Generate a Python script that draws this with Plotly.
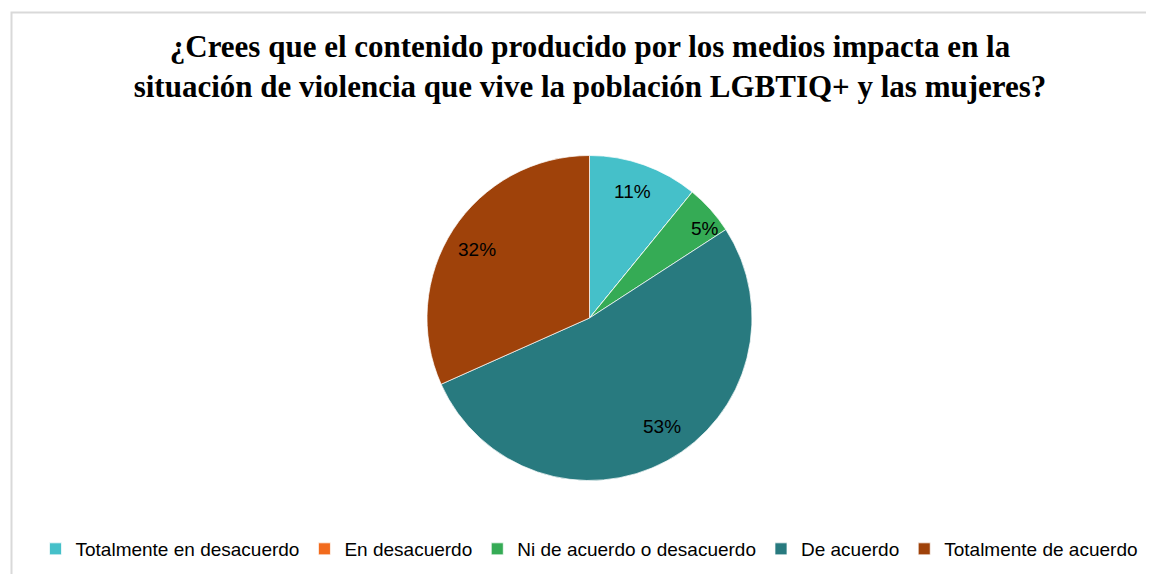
import math
import plotly.graph_objects as go

categories = ["Totalmente en desacuerdo", "En desacuerdo", "Ni de acuerdo o desacuerdo",
              "De acuerdo", "Totalmente de acuerdo"]
values = [11, 0, 5, 53, 32]
colors = ["#45c0c9", "#f26b1d", "#35ab55", "#287a7f", "#9f420a"]
label_radius = [0.82, 0.8, 0.9, 0.805, 0.81]     # style: radial position of each label (fraction of R)
label_angle = [0.475, 0.5, 0.72, 0.473, 0.488]   # style: angular position within the slice
title_text = ("<b>¿Crees que el contenido producido por los medios impacta en la<br>"
              "situación de violencia que vive la población LGBTIQ+ y las mujeres?</b>")

OFF = 8  # default page body margin
W, H = 1154 - OFF, 574 - OFF


def fx(sx):
    return (sx - OFF) / W


def fy(sy):
    return 1 - (sy - OFF) / H


cx, cy, R = 589.5, 318, 162.5

fig = go.Figure(go.Pie(
    labels=categories,
    values=values,
    textinfo="none",
    sort=False,
    direction="clockwise",
    rotation=0,
    marker=dict(colors=colors, line=dict(color="rgba(255,255,255,0.7)", width=1)),
    domain=dict(x=[fx(cx - R), fx(cx + R)], y=[fy(cy + R), fy(cy - R)]),
    hoverinfo="label+percent",
))

# percentage labels placed inside each slice (angles derived from the values)
total = sum(values)
acc = 0
annotations = []
for v, rf, af in zip(values, label_radius, label_angle):
    start = acc
    acc += v
    if v == 0:
        continue
    ang = (start + v * af) / total * 2 * math.pi
    sx = cx + rf * R * math.sin(ang)
    sy = cy - rf * R * math.cos(ang)
    annotations.append(dict(x=fx(sx), y=fy(sy), xref="paper", yref="paper",
                            text=f"{v}%", showarrow=False, xanchor="center", yanchor="middle",
                            font=dict(family="Liberation Sans, Arial", size=19, color="#000000")))

fig.update_layout(
    width=W, height=H,
    margin=dict(l=0, r=0, t=0, b=0),
    paper_bgcolor="white",
    plot_bgcolor="white",
    title=dict(text=title_text, x=fx(590), xanchor="center", y=fy(57), yanchor="middle",
               font=dict(family="Liberation Serif, Times New Roman", size=31, color="#000000")),
    showlegend=True,
    legend=dict(orientation="h", x=fx(589.5), xanchor="center", y=fy(549), yanchor="middle",
                font=dict(family="Liberation Sans, Arial", size=19, color="#000000"),
                traceorder="normal", itemwidth=30, bgcolor="rgba(0,0,0,0)"),
    annotations=annotations,
    shapes=[dict(type="rect", xref="paper", yref="paper",
                 x0=fx(11.5), x1=1.02, y0=-0.03, y1=fy(12.5),
                 line=dict(color="#d9d9d9", width=2), fillcolor="rgba(0,0,0,0)")],
)

fig.write_html("out.html")
